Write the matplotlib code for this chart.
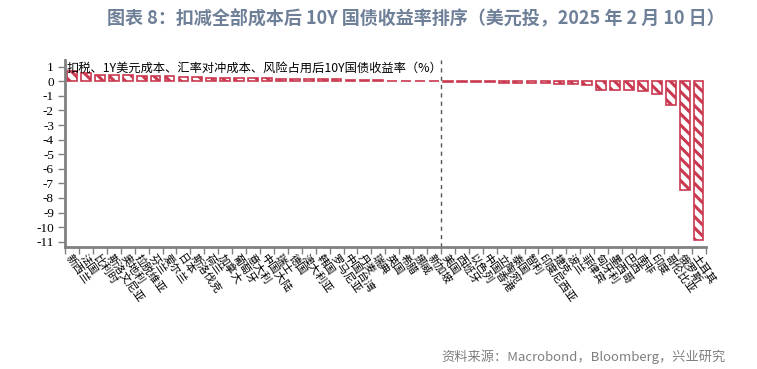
import matplotlib
matplotlib.use('Agg')
import matplotlib.pyplot as plt
import numpy as np

plt.rcParams['font.family'] = ['Noto Sans CJK SC', 'DejaVu Sans']
plt.rcParams['hatch.linewidth'] = 2.2

# 国家/地区
countries = ['新西兰', '法国', '比利时', '斯洛文尼亚', '奥地利', '拉脱维亚', '芬兰', '爱尔兰',
             '日本', '斯洛伐克', '荷兰', '加拿大', '葡萄牙', '意大利', '中国大陆', '瑞士',
             '德国', '澳大利亚', '韩国', '罗马尼亚', '中国台湾', '丹麦', '瑞典', '英国',
             '希腊', '挪威', '新加坡', '美国', '西班牙', '以色列', '中国香港', '立陶宛',
             '泰国', '智利', '印度尼西亚', '捷克', '波兰', '菲律宾', '匈牙利', '墨西哥',
             '巴西', '南非', '印度', '哥伦比亚', '俄罗斯', '土耳其']

# 扣减全部成本后 10Y 国债收益率（%）
yields = [0.72, 0.56, 0.46, 0.42, 0.40, 0.39, 0.37, 0.33, 0.31, 0.28, 0.26, 0.25,
          0.23, 0.22, 0.20, 0.19, 0.18, 0.17, 0.15, 0.13, 0.11, 0.09, 0.06, 0.04,
          0.03, 0.02, 0.01,
          -0.02, -0.03, -0.04, -0.05, -0.12, -0.13, -0.14, -0.15, -0.16, -0.20, -0.22,
          -0.58, -0.60, -0.62, -0.65, -0.85, -1.65, -7.45, -10.85]

red = '#c9394f'
grey = '#808080'

fig = plt.figure(figsize=(7.57, 3.69), dpi=100)
ax = fig.add_axes([0.086, 0.331, 0.846, 0.506])

x = np.arange(len(countries))
ax.bar(x, yields, width=0.7, color='white', edgecolor=red, hatch='\\\\\\', linewidth=1.2)

ax.set_xlim(-0.5, len(countries) - 0.5)
ax.set_ylim(-11.35, 1.45)
ax.set_yticks(range(-11, 2))
ax.set_yticklabels([str(v) for v in range(-11, 2)], family='Liberation Serif', fontsize=9.5)

# 分隔线（美国前后）
ax.axvline(26.5, color='#555555', linestyle=(0, (3, 3)), linewidth=1)

ax.set_xticks(np.arange(len(countries) + 1) - 0.5)
ax.set_xticklabels([])
ax.set_xticks(x, minor=True)
ax.set_xticklabels(countries, minor=True, rotation=-55, ha='left', va='top',
                   rotation_mode='anchor', fontsize=8)
ax.tick_params(axis='x', which='minor', length=0, pad=4)
ax.tick_params(axis='x', which='major', length=5, color=grey, width=1)
ax.tick_params(axis='y', length=5, color=grey, width=1, pad=3)

for s in ['top', 'right']:
    ax.spines[s].set_visible(False)
for s in ['left', 'bottom']:
    ax.spines[s].set_color(grey)
    ax.spines[s].set_linewidth(2)

fig.text(0.088, 0.815, '扣税、1Y美元成本、汇率对冲成本、风险占用后10Y国债收益率（%）',
         fontsize=8.8, color='black', va='center')

fig.text(0.141, 0.952, '图表 8：扣减全部成本后 10Y 国债收益率排序（美元投，2025 年 2 月 10 日）',
         fontsize=13, color='#6e7f98', fontweight='bold', va='center')

fig.text(0.959, 0.033, '资料来源：Macrobond，Bloomberg，兴业研究',
         fontsize=9.5, color='#7f7f7f', ha='right', va='center')

fig.savefig('out.png', dpi=100)
